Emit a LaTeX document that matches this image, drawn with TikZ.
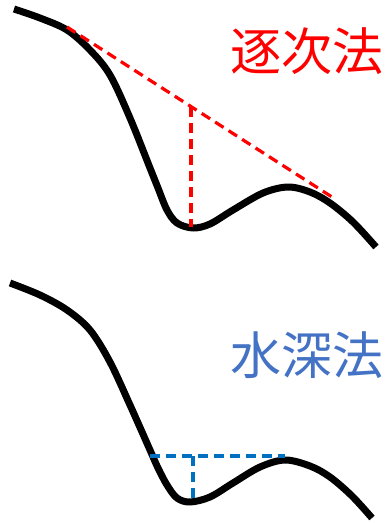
\documentclass[tikz,border=0pt]{standalone}
\usepackage{fontspec}
\newfontfamily\cjk{Noto Sans CJK JP}
\definecolor{redline}{HTML}{FF0000}
\definecolor{blueline}{HTML}{0070C0}
\definecolor{bluetext}{HTML}{4472C4}
\tikzset{
  terrain/.style={line width=7pt, black, line join=round},
  reddash/.style={line width=3.2pt, redline, dash pattern=on 10pt off 6pt},
  bluedash/.style={line width=3.2pt, blueline, dash pattern=on 10pt off 6pt},
  title/.style={font=\cjk\fontsize{51}{51}\selectfont, inner sep=0pt, anchor=center}
}
\begin{document}
\begin{tikzpicture}[x=1pt,y=-1pt]
\useasboundingbox (0,0) rectangle (389,523);
% top
\draw[terrain] plot[smooth, tension=0.55] coordinates {(14,9) (40,18) (67,30) (90,50) (110,75) (130,118) (150,168) (158,188) (167,210) (177,223) (193,228) (210,224) (233,210) (263,193) (288,187) (310,192) (330,203) (353,222) (376,247)};
\coordinate (t1) at (67,27);
\coordinate (t2) at (332,197);
\coordinate (tv) at (191,107);
\coordinate (tb) at (191,227);
\draw[reddash] (t1) -- (t2);
\draw[reddash] (tv) -- (tb);
\node[title, text=redline] (lab1) at (307,51) {逐次法};
% bottom
\draw[terrain] plot[smooth, tension=0.55] coordinates {(10,283) (40,295) (67,310) (90,330) (110,362) (130,405) (150,450) (158,468) (167,485) (177,498) (190,502) (210,497) (233,483) (260,467) (285,460) (310,466) (330,477) (352,496) (372,518)};
\coordinate (b1) at (150,456);
\coordinate (b2) at (285,456);
\coordinate (bv) at (193,456);
\coordinate (bb) at (193,500);
\draw[bluedash] (b1) -- (b2);
\draw[bluedash] (bv) -- (bb);
\node[title, text=bluetext] (lab2) at (307,355) {水深法};
\end{tikzpicture}
\end{document}
